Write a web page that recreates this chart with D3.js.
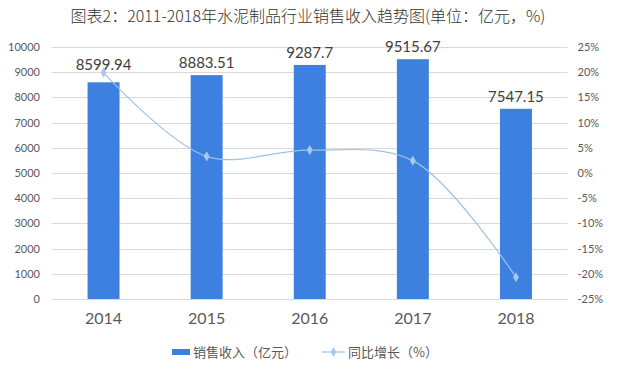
<!DOCTYPE html>
<html>
<head>
<meta charset="utf-8">
<script src="https://cdn.jsdelivr.net/npm/d3@7"></script>
<style>
  body { margin: 0; background: #fff; }
  svg { display: block; }
</style>
</head>
<body>
<div id="chart"></div>
<script>
// Chart data
var years = ["2014", "2015", "2016", "2017", "2018"];
var revenue = [8599.94, 8883.51, 9287.7, 9515.67, 7547.15];
var growth = [19.9, 3.3, 4.55, 2.45, -20.69];
var leftTicks = [0, 1000, 2000, 3000, 4000, 5000, 6000, 7000, 8000, 9000, 10000];
var rightTicks = [-25, -20, -15, -10, -5, 0, 5, 10, 15, 20, 25];

var svgWidth = 617;
var svgHeight = 365;
var margin = { top: 47, right: 50, bottom: 66, left: 52 };
var width = 567.5 - margin.left;
var height = 299 - margin.top;

var svg = d3.select("#chart")
  .append("svg")
  .attr("width", svgWidth)
  .attr("height", svgHeight);

// title
svg.append("text")
  .attr("x", 308)
  .attr("y", 22)
  .attr("text-anchor", "middle")
  .attr("font-family", "'Noto Sans CJK SC', sans-serif")
  .attr("font-size", 16)
  .attr("font-weight", 300)
  .attr("fill", "#333")
  .text("图表2：2011-2018年水泥制品行业销售收入趋势图(单位：亿元，%)");

var chartGroup = svg.append("g")
  .attr("transform", `translate(${margin.left}, ${margin.top})`);

// scales
var xScale = d3.scaleBand()
  .domain(years)
  .range([0, width])
  .paddingInner(0.69)
  .paddingOuter(0.345);

var yLeft = d3.scaleLinear().domain([0, 10000]).range([height, 0]);
var yRight = d3.scaleLinear().domain([-25, 25]).range([height, 0]);

// gridlines
chartGroup.append("g")
  .selectAll("line")
  .data(leftTicks)
  .enter()
  .append("line")
  .attr("x1", 0)
  .attr("x2", width)
  .attr("y1", d => Math.round(yLeft(d)) + 0.5)
  .attr("y2", d => Math.round(yLeft(d)) + 0.5)
  .attr("stroke", "#d9d9d9")
  .attr("stroke-width", 1);

// left axis
var leftAxis = d3.axisLeft(yLeft).tickValues(leftTicks).tickSize(0).tickPadding(12)
  .tickFormat(d3.format("d"));
chartGroup.append("g")
  .call(leftAxis)
  .call(g => g.select(".domain").remove())
  .call(g => g.selectAll("text")
    .attr("font-family", "Lato, sans-serif")
    .attr("font-size", 11)
    .attr("fill", "#595959"));

// right axis
var rightAxis = d3.axisRight(yRight).tickValues(rightTicks).tickSize(0).tickPadding(10)
  .tickFormat(d => d + "%");
chartGroup.append("g")
  .attr("transform", `translate(${width}, 0)`)
  .call(rightAxis)
  .call(g => g.select(".domain").remove())
  .call(g => g.selectAll("text")
    .attr("font-family", "Lato, sans-serif")
    .attr("font-size", 11)
    .attr("fill", "#595959"));

// bottom axis
var bottomAxis = d3.axisBottom(xScale).tickSize(0).tickPadding(14);
chartGroup.append("g")
  .attr("transform", `translate(0, ${height})`)
  .call(bottomAxis)
  .call(g => g.select(".domain").remove())
  .call(g => g.selectAll("text")
    .attr("font-family", "Lato, sans-serif")
    .attr("font-size", 16)
    .attr("fill", "#595959"));

// bars
chartGroup.selectAll(".bar")
  .data(revenue)
  .enter()
  .append("rect")
  .attr("class", "bar")
  .attr("x", (d, i) => xScale(years[i]))
  .attr("y", d => yLeft(d))
  .attr("width", xScale.bandwidth())
  .attr("height", d => height - yLeft(d))
  .attr("fill", "#3d80e0");

// bar labels
chartGroup.selectAll(".barLabel")
  .data(revenue)
  .enter()
  .append("text")
  .attr("class", "barLabel")
  .attr("x", (d, i) => xScale(years[i]) + xScale.bandwidth() / 2)
  .attr("y", (d, i) => yLeft(d) - (i === 0 ? 12 : 7))
  .attr("text-anchor", "middle")
  .attr("font-family", "Lato, sans-serif")
  .attr("font-size", 15)
  .attr("fill", "#404040")
  .text(d => d);

// growth line
var line = d3.line()
  .x((d, i) => xScale(years[i]) + xScale.bandwidth() / 2)
  .y(d => yRight(d))
  .curve(d3.curveCatmullRom.alpha(0.5));

chartGroup.append("path")
  .datum(growth)
  .attr("d", line)
  .attr("fill", "none")
  .attr("stroke", "#9dc3e6")
  .attr("stroke-width", 1.2);

var diamond = d3.symbol().type(d3.symbolDiamond).size(30);
chartGroup.selectAll(".marker")
  .data(growth)
  .enter()
  .append("path")
  .attr("class", "marker")
  .attr("d", diamond)
  .attr("transform", (d, i) => `translate(${xScale(years[i]) + xScale.bandwidth() / 2}, ${yRight(d)})`)
  .attr("fill", "#a9c8ee");

// legend
var legend = svg.append("g");
legend.append("rect")
  .attr("x", 172)
  .attr("y", 349)
  .attr("width", 18)
  .attr("height", 6)
  .attr("fill", "#3d80e0");
legend.append("text")
  .attr("x", 193)
  .attr("y", 357)
  .attr("font-family", "'Noto Sans CJK SC', sans-serif")
  .attr("font-size", 13)
  .attr("fill", "#595959")
  .text("销售收入（亿元）");
legend.append("line")
  .attr("x1", 322)
  .attr("x2", 345)
  .attr("y1", 352)
  .attr("y2", 352)
  .attr("stroke", "#9dc3e6")
  .attr("stroke-width", 1.2);
legend.append("path")
  .attr("d", diamond)
  .attr("transform", "translate(333.5, 352)")
  .attr("fill", "#a9c8ee");
legend.append("text")
  .attr("x", 348)
  .attr("y", 357)
  .attr("font-family", "'Noto Sans CJK SC', sans-serif")
  .attr("font-size", 13)
  .attr("fill", "#595959")
  .text("同比增长（%）");
</script>
</body>
</html>
